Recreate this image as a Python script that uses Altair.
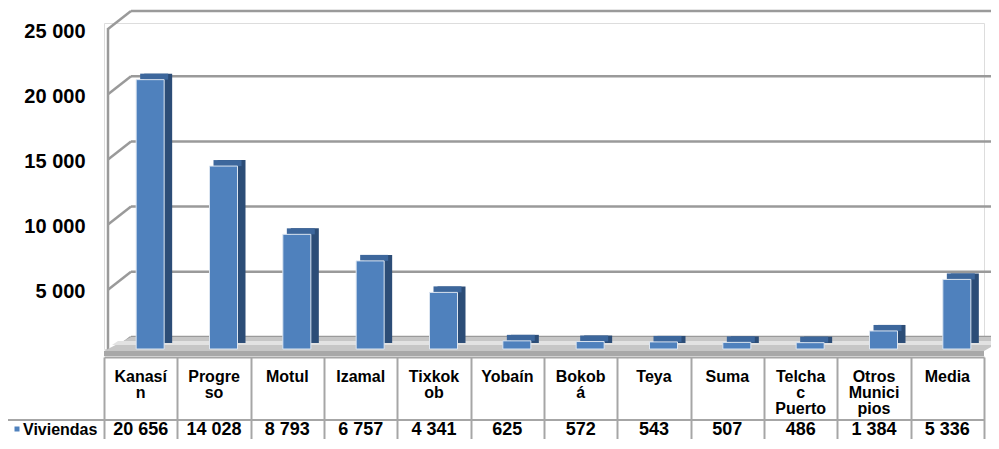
import altair as alt
import pandas as pd

# ---------------- data ----------------
categories = ["Kanasín", "Progreso", "Motul", "Izamal", "Tixkokob", "Yobaín",
              "Bokobá", "Teya", "Suma", "Telchac Puerto", "Otros Municipios", "Media"]
header_labels = ["Kanasí\nn", "Progre\nso", "Motul", "Izamal", "Tixkok\nob", "Yobaín",
                 "Bokob\ná", "Teya", "Suma", "Telcha\nc\nPuerto", "Otros\nMunici\npios", "Media"]
viviendas = [20656, 14028, 8793, 6757, 4341, 625, 572, 543, 507, 486, 1384, 5336]
y_ticks = [5000, 10000, 15000, 20000, 25000]
grid_values = [0, 5000, 10000, 15000, 20000, 25000]
series_name = "Viviendas"

df = pd.DataFrame({
    "cat": categories,
    "header": header_labels,
    "v": viviendas,
    "label": [f"{v:,}".replace(",", " ") for v in viviendas],
})
grid = pd.DataFrame({"v": grid_values})
one = pd.DataFrame({"v": [0]})

# ---------------- style ----------------
W, H = 880, 326
BW = 28          # bar face width
DX = 9.5         # bar plane shift (3D depth)
FONT = "Liberation Sans"
GRID = "#9a9a9a"
LINE = "#a6a6a6"
FRONT = "#4f81bd"
TOP = "#3d679c"
SIDE = "#2c4d77"

yscale = alt.Scale(domain=[0, 25000], nice=False, zero=True)
xscale = alt.Scale(domain=categories, paddingInner=0, paddingOuter=0)

xaxis = alt.Axis(title=None, labels=False, offset=8, domainColor=LINE, domainWidth=2,
                 tickColor=LINE, tickWidth=2, tickSize=92, tickBand="extent", grid=False)
xenc = alt.X("cat:N", sort=categories, scale=xscale, axis=xaxis)

yaxis = alt.Axis(values=y_ticks, title=None, domain=False, ticks=False, grid=False,
                 orient="left",
                 labelExpr="replace(format(datum.value, ','), ',', ' ')",
                 labelFont=FONT, labelFontSize=20, labelFontWeight="bold",
                 labelColor="black", labelPadding=19, labelOffset=8)
yenc = alt.Y("v:Q", scale=yscale, axis=yaxis)

# ---------------- 3D walls and floor ----------------
back_grid = alt.Chart(grid).mark_rule(color=GRID, strokeWidth=2.5, yOffset=-12).encode(
    y=yenc, x=alt.value(27), x2=alt.value(W + 30))

side_grid = alt.Chart(grid).mark_rule(color=GRID, strokeWidth=2.5, yOffset=6, y2Offset=-12).encode(
    y=yenc, y2="v:Q", x=alt.value(4), x2=alt.value(27))

front_edge = alt.Chart(one).mark_rule(color=GRID, strokeWidth=2.5).encode(
    x=alt.value(4), y=alt.value(5), y2=alt.value(H + 2))

floor_top = alt.Chart(one).mark_point(
    shape="M0,2L880,2L905,-12L27,-12Z", size=4, filled=True, fill="#c6c6c6",
    opacity=1, strokeWidth=0).encode(x=alt.value(0), y=alt.value(H))
floor_shine = alt.Chart(one).mark_point(
    shape="M8,-4L890,-4L897,-8L14,-8Z", size=4, filled=True, fill="#e2e2e2",
    opacity=1, strokeWidth=0).encode(x=alt.value(0), y=alt.value(H))
floor_front = alt.Chart(one).mark_point(
    shape="M0,2L880,2L880,7L0,7Z", size=4, filled=True, fill="#a8a8a8",
    opacity=1, strokeWidth=0).encode(x=alt.value(0), y=alt.value(H))

# ---------------- bars ----------------
bar_side = alt.Chart(df).mark_bar(width=BW, xOffset=DX + 8, yOffset=-6, y2Offset=-6,
                                  color=SIDE).encode(x=xenc, y=yenc)
bar_top = alt.Chart(df).mark_bar(width=BW, xOffset=DX + 4, yOffset=-6, color=TOP).encode(
    x=xenc, y=yenc, y2="v:Q")
bar_front = alt.Chart(df).mark_bar(width=BW, xOffset=DX, color=FRONT,
                                   stroke="#dbe5f1", strokeWidth=1).encode(x=xenc, y=yenc)

# ---------------- data table ----------------
row_line = alt.Chart(one).mark_rule(color=LINE, strokeWidth=2).encode(
    x=alt.value(-97), x2=alt.value(W), y=alt.value(397))
legend_border = alt.Chart(one).mark_rule(color=LINE, strokeWidth=2).encode(
    x=alt.value(-97), y=alt.value(397), y2=alt.value(430))

headers = alt.Chart(df).mark_text(font=FONT, fontSize=16, fontWeight="bold", baseline="top",
                                  lineBreak="\n", lineHeight=16, color="black").encode(
    x=xenc, y=alt.value(346), text="header:N")
values = alt.Chart(df).mark_text(font=FONT, fontSize=18, fontWeight="bold", baseline="middle",
                                 color="black").encode(
    x=xenc, y=alt.value(407), text="label:N")
legend_sq = alt.Chart(one).mark_square(size=25, color=FRONT, filled=True, opacity=1).encode(
    x=alt.value(-87), y=alt.value(406))
legend_txt = alt.Chart(one).mark_text(font=FONT, fontSize=16, fontWeight="bold",
                                      align="left", baseline="middle", color="black").encode(
    x=alt.value(-81), y=alt.value(407), text=alt.value(series_name))

chart = alt.layer(
    back_grid, side_grid, front_edge, floor_top, floor_shine, floor_front,
    bar_side, bar_top, bar_front,
    row_line, legend_border, headers, values, legend_sq, legend_txt,
).properties(
    width=W, height=H,
    autosize=alt.AutoSizeParams(type="none"),
    padding={"left": 96, "top": 15, "right": 7, "bottom": 90},
).configure_view(stroke="transparent", strokeWidth=0).configure(background="white")

chart.save("out.html", embed_options={"renderer": "svg", "actions": False})
